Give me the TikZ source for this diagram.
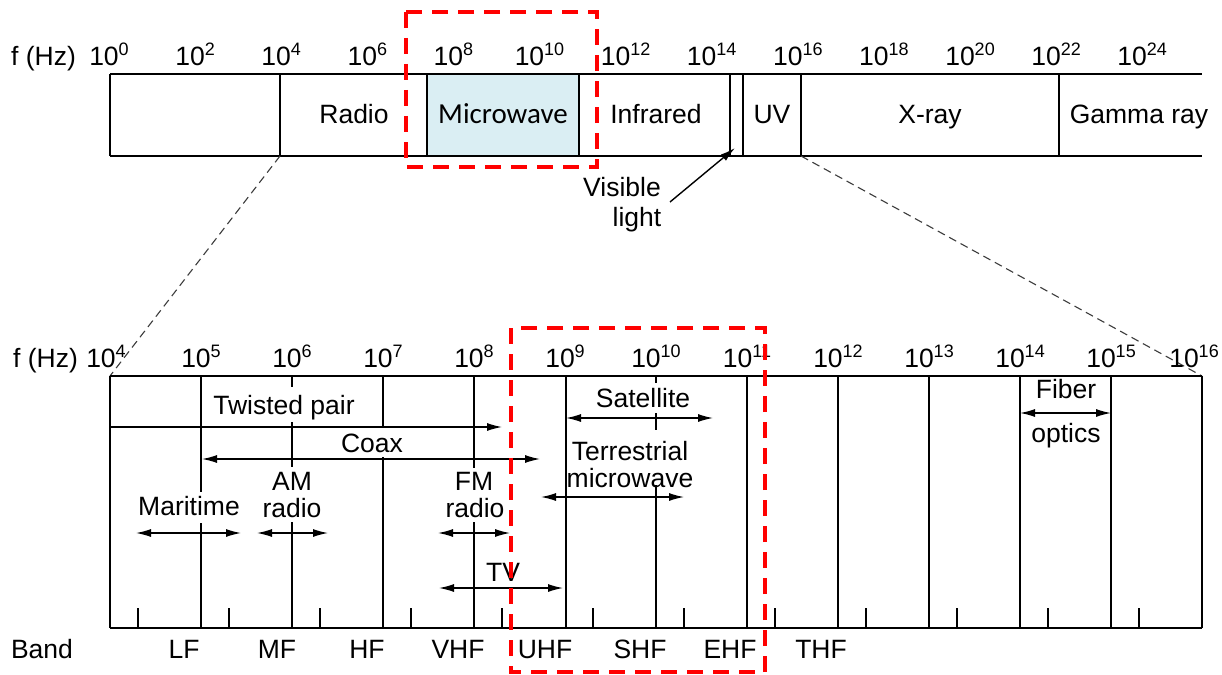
\documentclass[tikz,border=0pt]{standalone}
\usepackage{fontspec}
\setmainfont{Liberation Sans}
\newfontfamily\calfont{Carlito}
\usetikzlibrary{arrows.meta}
\definecolor{mwblue}{RGB}{218,238,243}
\definecolor{dgray}{RGB}{60,60,60}
\newcommand{\tenexp}[1]{10\raisebox{10pt}{\fontsize{18}{18}\selectfont #1}}
\begin{document}
\begin{tikzpicture}[x=1pt,y=-1pt,
  lbl/.style={font=\fontsize{26.5}{30}\selectfont, inner sep=0pt, anchor=base},
  ln/.style={line width=1.2pt, black},
  arr/.style={line width=1.3pt, -{Latex[length=15pt,width=8pt]}},
  dbl/.style={line width=1.3pt, {Latex[length=15pt,width=8pt]}-{Latex[length=15pt,width=8pt]}},
  reddash/.style={red, line width=4pt, dash pattern=on 16pt off 10pt},
  zoomline/.style={dgray, line width=1.1pt, dash pattern=on 8pt off 5pt}]

\useasboundingbox (0,0) rectangle (1222,674);
\fill[white] (0,0) rectangle (1222,674);

% ---------- top spectrum ----------
\draw[ln] (110,74) -- (1202,74);
\draw[ln] (110,156) -- (1202,156);
\draw[ln] (110,74) -- (110,156);
\foreach \x in {280,730,743,801,1059} \draw[ln] (\x,74) -- (\x,156);
\filldraw[fill=mwblue, draw=black, line width=2.6pt] (427,74) rectangle (579,156);

\node[lbl, anchor=base west] (fhz1) at (11,66) {f (Hz)};
\foreach \k in {0,2,...,24} \node[lbl] (te\k) at ({109+43.05*\k},66) {\tenexp{\k}};

\node[lbl] (radio) at (354,124) {Radio};
\node[lbl, font=\calfont\fontsize{29}{32}\selectfont] (micro) at (503,124) {Microwave};
\node[lbl] (infra) at (656,124) {Infrared};
\node[lbl] (uv) at (772,124) {UV};
\node[lbl] (xray) at (930,124) {X-ray};
\node[lbl] (gamma) at (1139,124) {Gamma ray};

\node[lbl] (vis1) at (622,196) {Visible};
\node[lbl] (vis2) at (637,226) {light};
\coordinate (vtail) at (670,202);
\coordinate (vtip) at (735,148);
\draw[line width=1.4pt, -{Latex[length=15pt,width=8pt]}] (vtail) -- (vtip);

% zoom connectors
\coordinate (t4) at (280,156);
\coordinate (t16) at (801,156);
\coordinate (b4) at (110,376);
\coordinate (b16) at (1202,376);
\draw[zoomline] (t4) -- (b4);
\draw[zoomline] (t16) -- (b16);

% ---------- lower spectrum ----------
\draw[ln] (110,376) -- (1202,376);
\draw[ln] (110,628) -- (1202,628);
\draw[ln] (110,376) -- (110,628);
\foreach \x in {566,747,838,929,1020,1111,1202} \draw[ln] (\x,376) -- (\x,628);
\draw[ln] (201,376) -- (201,492) (201,523) -- (201,628);
\draw[ln] (292,376) -- (292,387) (292,422) -- (292,467) (292,522) -- (292,628);
\draw[ln] (383,376) -- (383,427) (383,457) -- (383,628);
\draw[ln] (474,376) -- (474,468) (474,522) -- (474,628);
\draw[ln] (656,376) -- (656,383) (656,413) -- (656,430) (656,485) -- (656,628);
\foreach \x in {138,229,320,411,502,593,684,775,866,957,1048,1139} \draw[ln] (\x,608) -- (\x,628);

\node[lbl, anchor=base west] (fhz2) at (13,367) {f (Hz)};
\node[lbl] (le4) at (106,367) {\tenexp{4}};
\foreach \k in {5,...,15} \node[lbl] (le\k) at ({110+91*(\k-4)},367) {\tenexp{\k}};
\node[lbl] (le16) at (1194,367) {\tenexp{16}};

% media labels and ranges
\node[lbl] (tp) at (284,414) {Twisted pair};
\coordinate (tpL) at (110,427); \coordinate (tpR) at (502,427);
\draw[arr] (tpL) -- (tpR);

\node[lbl] (coax) at (372,452) {Coax};
\coordinate (cxL) at (202,459); \coordinate (cxR) at (540,459);
\draw[dbl] (cxL) -- (cxR);

\node[lbl] (sat) at (643,407) {Satellite};
\coordinate (stL) at (566,418); \coordinate (stR) at (713,418);
\draw[dbl] (stL) -- (stR);

\node[lbl] (ter1) at (630,460) {Terrestrial};
\node[lbl] (ter2) at (630,487) {microwave};
\coordinate (trL) at (541,497); \coordinate (trR) at (684,497);
\draw[dbl] (trL) -- (trR);

\node[lbl] (mar) at (189,515) {Maritime};
\coordinate (mrL) at (136,533); \coordinate (mrR) at (241,533);
\draw[dbl] (mrL) -- (mrR);

\node[lbl] (am1) at (292,490) {AM};
\node[lbl] (am2) at (292,517) {radio};
\coordinate (amL) at (257,533); \coordinate (amR) at (328,533);
\draw[dbl] (amL) -- (amR);

\node[lbl] (fm1) at (474,490) {FM};
\node[lbl] (fm2) at (475,517) {radio};
\coordinate (fmL) at (438,533); \coordinate (fmR) at (510,533);
\draw[dbl] (fmL) -- (fmR);

\node[lbl] (tv) at (503,581) {TV};
\coordinate (tvL) at (439,588); \coordinate (tvR) at (563,588);
\draw[dbl] (tvL) -- (tvR);

\node[lbl] (fib1) at (1066,398) {Fiber};
\node[lbl] (fib2) at (1066,442) {optics};
\coordinate (fbL) at (1020,413); \coordinate (fbR) at (1111,413);
\draw[dbl] (fbL) -- (fbR);

% band names
\node[lbl] (band) at (42,658) {Band};
\node[lbl] (lf) at (184,658) {LF};
\node[lbl] (mf) at (277,658) {MF};
\node[lbl] (hf) at (367,658) {HF};
\node[lbl] (vhf) at (458,658) {VHF};
\node[lbl] (uhf) at (545,658) {UHF};
\node[lbl] (shf) at (640,658) {SHF};
\node[lbl] (ehf) at (730,658) {EHF};
\node[lbl] (thf) at (821,658) {THF};

% red highlight boxes
\draw[reddash] (406,12) rectangle (597,167);
\draw[reddash] (511,328) rectangle (765,672);
\end{tikzpicture}
\end{document}
